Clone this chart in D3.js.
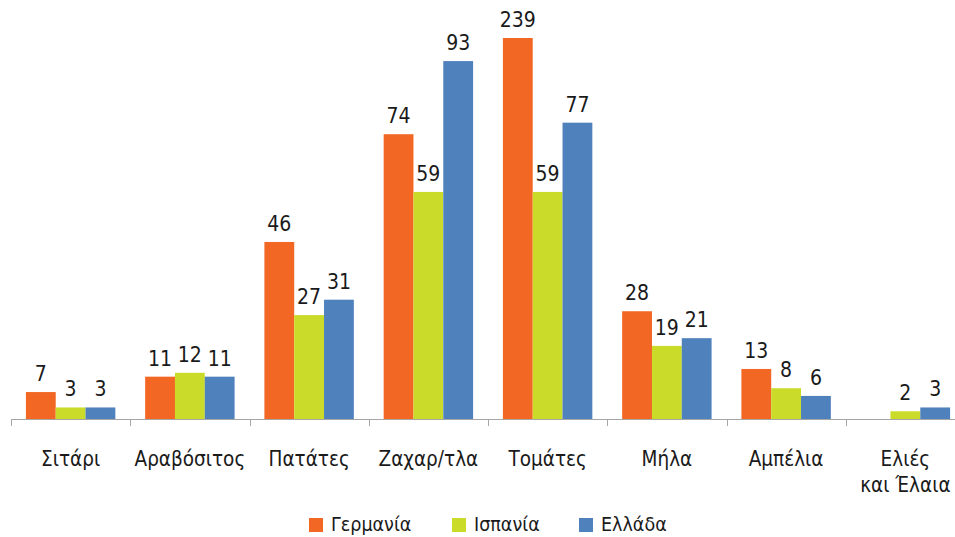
<!DOCTYPE html>
<html lang="el">
<head>
<meta charset="UTF-8">
<title>Chart</title>
<script src="https://cdnjs.cloudflare.com/ajax/libs/d3/7.8.5/d3.min.js"></script>
<style>
    body { margin: 0; background: #ffffff; }
    svg text { font-family: "DejaVu Sans Condensed", "DejaVu Sans", sans-serif; fill: #1a1a1a; }
</style>
</head>
<body>
<div id="chart"></div>
<script>
    var WIDTH = 955;
    var HEIGHT = 537;

    var CATEGORIES = ["Σιτάρι", "Αραβόσιτος", "Πατάτες", "Ζαχαρ/τλα", "Τομάτες", "Μήλα", "Αμπέλια", "Ελιές\nκαι Έλαια"];
    var SERIES = ["Γερμανία", "Ισπανία", "Ελλάδα"];
    var GERMANY = [7, 11, 46, 74, 239, 28, 13, null];
    var SPAIN = [3, 12, 27, 59, 59, 19, 8, 2];
    var GREECE = [3, 11, 31, 93, 77, 21, 6, 3];
    var COLORS = ["#F26724", "#CADB2A", "#4F81BD"];

    var Y_MAX = 99;
    var BASELINE = 419;
    var TOP = 38;

    var values = [GERMANY, SPAIN, GREECE];

    var svg = d3.select("#chart").append("svg")
        .attr("width", WIDTH)
        .attr("height", HEIGHT);

    var x0 = d3.scaleBand()
        .domain(CATEGORIES)
        .range([11, 965])
        .paddingInner(0.25)
        .paddingOuter(0.125);

    var x1 = d3.scaleBand()
        .domain(SERIES)
        .range([0, x0.bandwidth()]);

    var y = d3.scaleLinear()
        .domain([0, Y_MAX])
        .range([BASELINE, TOP])
        .clamp(true);

    var groups = svg.selectAll("g.cat")
        .data(CATEGORIES)
        .enter().append("g")
        .attr("class", "cat")
        .attr("transform", function(d) { return "translate(" + x0(d) + ",0)"; });

    groups.each(function(cat, ci) {
        var g = d3.select(this);
        SERIES.forEach(function(s, si) {
            var v = values[si][ci];
            if (v === null) return;
            g.append("rect")
                .attr("x", x1(s))
                .attr("y", y(v))
                .attr("width", x1.bandwidth())
                .attr("height", BASELINE - y(v))
                .style("fill", COLORS[si]);
            g.append("text")
                .attr("x", x1(s) + x1.bandwidth() / 2)
                .attr("y", y(v) - 11)
                .attr("text-anchor", "middle")
                .style("font-size", "21px")
                .text(v);
        });
    });

    // axis line with ticks between categories
    var step = x0.step();
    var start = x0.range()[0];
    svg.append("line")
        .attr("x1", start).attr("x2", WIDTH)
        .attr("y1", BASELINE + 0.5).attr("y2", BASELINE + 0.5)
        .style("stroke", "#a6a6a6");
    d3.range(CATEGORIES.length).forEach(function(i) {
        var tx = Math.round(start + i * step) + 0.5;
        svg.append("line")
            .attr("x1", tx).attr("x2", tx)
            .attr("y1", BASELINE).attr("y2", BASELINE + 7)
            .style("stroke", "#a6a6a6");
    });

    // category labels
    groups.each(function(cat) {
        var lines = cat.split("\n");
        var t = d3.select(this).append("text")
            .attr("text-anchor", "middle")
            .style("font-size", "20.5px");
        lines.forEach(function(line, li) {
            t.append("tspan")
                .attr("x", x0.bandwidth() / 2)
                .attr("y", 466 + li * 26)
                .text(line);
        });
    });

    // legend
    var LEGEND_X = [309, 452, 579];
    var legend = svg.append("g");
    SERIES.forEach(function(s, si) {
        legend.append("rect")
            .attr("x", LEGEND_X[si])
            .attr("y", 518)
            .attr("width", 14)
            .attr("height", 14)
            .style("fill", COLORS[si]);
        legend.append("text")
            .attr("x", LEGEND_X[si] + 22)
            .attr("y", 531)
            .style("font-size", "19.5px")
            .text(s);
    });
</script>
</body>
</html>
